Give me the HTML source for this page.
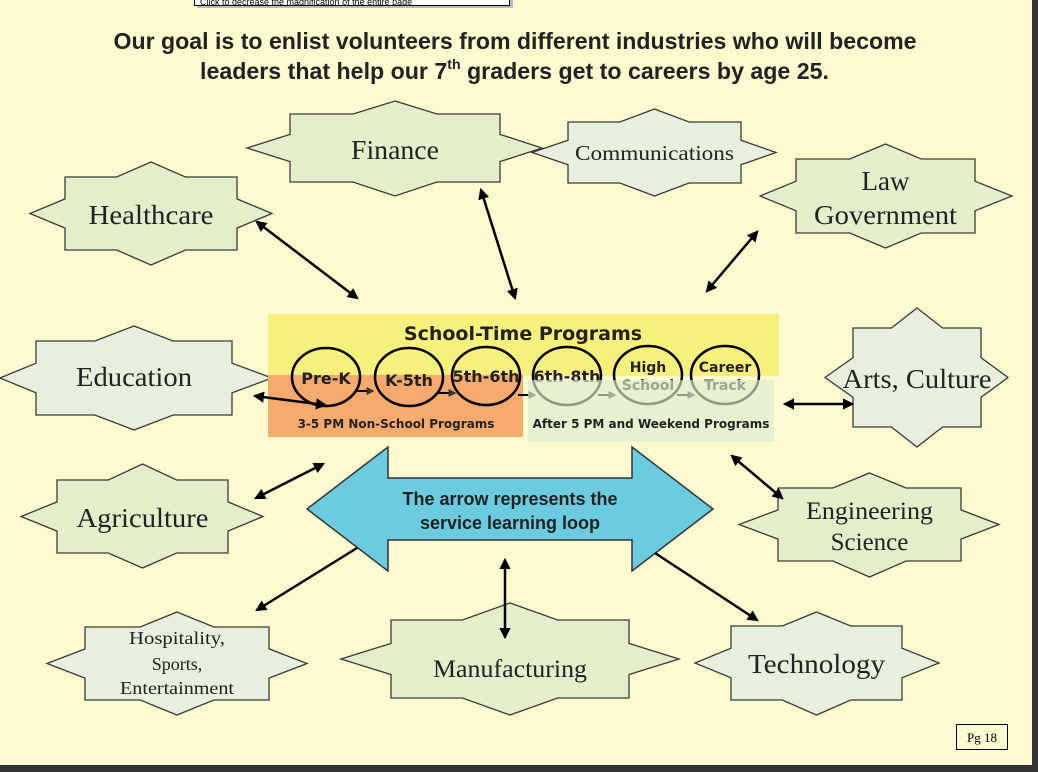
<!DOCTYPE html>
<html><head><meta charset="utf-8"><style>
html,body{margin:0;padding:0;background:#fdfad0;}
svg{display:block}
.s{font-family:"Liberation Serif",serif;fill:#222;text-anchor:middle}
.v{font-family:"DejaVu Sans","Liberation Sans",sans-serif;font-weight:bold;fill:#222;text-anchor:middle}
.a{font-family:"Liberation Sans",sans-serif;font-weight:bold;fill:#222;text-anchor:middle}
</style></head><body>
<svg id="sv" width="1038" height="772" viewBox="0 0 1038 772" xmlns="http://www.w3.org/2000/svg">
<defs>
<marker id="m" viewBox="0 0 10 10" refX="8" refY="5" markerWidth="4.5" markerHeight="4.5" orient="auto-start-reverse"><path d="M0,0 L10,5 L0,10 z" fill="#000"/></marker>
<marker id="g" viewBox="0 0 10 10" refX="8" refY="5" markerWidth="4" markerHeight="4" orient="auto"><path d="M0,0 L10,5 L0,10 z" fill="#333"/></marker>
<clipPath id="tc"><rect x="194" y="0" width="318" height="6"/></clipPath>
</defs>
<rect width="1038" height="772" fill="#fdfad0"/>
<rect x="1032" y="0" width="6" height="772" fill="#333"/>
<rect x="0" y="765" width="1038" height="7" fill="#333"/>
<rect x="197" y="0" width="316" height="8" fill="#bbb"/>
<rect x="194.5" y="-2" width="315" height="7.5" fill="#fff" stroke="#000"/>
<g clip-path="url(#tc)"><text x="200" y="5" font-family="Liberation Sans" font-size="9" fill="#000">Click to decrease the magnification of the entire page</text></g>

<text class="a" x="515" y="49" font-size="23" textLength="803" lengthAdjust="spacingAndGlyphs">Our goal is to enlist volunteers from different industries who will become</text>
<text class="a" x="200" y="79" font-size="23" style="text-anchor:start" textLength="629" lengthAdjust="spacingAndGlyphs">leaders that help our 7<tspan font-size="14" dy="-10">th</tspan><tspan dy="10"> graders get to careers by age 25.</tspan></text>

<g id="stars"></g>

<!-- programs -->
<rect x="268" y="314" width="511" height="62" fill="#f7f07c"/>
<rect x="268" y="375" width="255" height="62" fill="#f6aa6e"/>
<text class="v" x="523" y="340" font-size="19">School-Time Programs</text>
<g fill="none" stroke="#000" stroke-width="2.5">
<ellipse cx="326" cy="377" rx="34" ry="29"/>
<ellipse cx="409" cy="377" rx="34" ry="29"/>
<ellipse cx="486" cy="376" rx="34" ry="29"/>
<ellipse cx="567" cy="376" rx="34" ry="29"/>
<ellipse cx="648" cy="375" rx="34" ry="29"/>
<ellipse cx="725" cy="375" rx="34" ry="29"/>
</g>
<g stroke="#000" stroke-width="2" fill="none">
<line x1="356" y1="391" x2="373" y2="391" marker-end="url(#g)"/>
<line x1="438" y1="393" x2="455" y2="393" marker-end="url(#g)"/>
<line x1="518" y1="395" x2="535" y2="395" marker-end="url(#g)"/>
<line x1="598" y1="395" x2="615" y2="395" marker-end="url(#g)"/>
<line x1="677" y1="395" x2="694" y2="395" marker-end="url(#g)"/>
</g>
<g font-size="16" class="v">
<text x="326" y="384">Pre-K</text>
<text x="409" y="386">K-5th</text>
<text x="486" y="382">5th-6th</text>
<text x="567" y="382">6th-8th</text>
<text x="648" y="372" font-size="14">High</text>
<text x="648" y="390" font-size="14">School</text>
<text x="725" y="372" font-size="14">Career</text>
<text x="725" y="390" font-size="14">Track</text>
</g>
<rect x="528" y="380" width="246" height="62" fill="#dbecd0" fill-opacity="0.65"/>
<text class="v" x="396" y="428" font-size="12">3-5 PM Non-School Programs</text>
<text class="v" x="651" y="428" font-size="12">After 5 PM and Weekend Programs</text>

<!-- big arrow -->
<polygon points="307,509 388,447 388,478 632,478 632,447 713,509 632,571 632,540 388,540 388,571" fill="#6ccbdf" stroke="#333" stroke-width="1.5"/>
<text class="a" x="510" y="505" font-size="18">The arrow represents the</text>
<text class="a" x="510" y="529" font-size="18">service learning loop</text>

<!-- connectors -->
<g stroke="#000" stroke-width="2.5" fill="none">
<line x1="257" y1="222" x2="357" y2="298" marker-start="url(#m)" marker-end="url(#m)"/>
<line x1="481" y1="190" x2="515" y2="298" marker-start="url(#m)" marker-end="url(#m)"/>
<line x1="757" y1="232" x2="707" y2="291" marker-start="url(#m)" marker-end="url(#m)"/>
<line x1="255" y1="396" x2="325" y2="405" marker-start="url(#m)" marker-end="url(#m)"/>
<line x1="785" y1="404" x2="852" y2="404" marker-start="url(#m)" marker-end="url(#m)"/>
<line x1="256" y1="498" x2="323" y2="464" marker-start="url(#m)" marker-end="url(#m)"/>
<line x1="732" y1="456" x2="782" y2="498" marker-start="url(#m)" marker-end="url(#m)"/>
<line x1="357" y1="548" x2="257" y2="610" marker-end="url(#m)"/>
<line x1="655" y1="553" x2="757" y2="620" marker-end="url(#m)"/>
<line x1="505" y1="560" x2="505" y2="637" marker-start="url(#m)" marker-end="url(#m)"/>
</g>

<rect x="956.5" y="724.5" width="51" height="25" fill="none" stroke="#000"/>
<text x="982" y="742" font-family="Liberation Serif" font-size="13" text-anchor="middle" fill="#000">Pg 18</text>
</svg>
<script>
var G="#e4eecb",L="#e6f0dc";
var S=[
[30,272,162,265,65,237,177,250,G,[["Healthcare",224,27,125]]],
[247,542,101,196,290,500,114,182,G,[["Finance",159,27,88]]],
[532,776,109,196,568,741,122,183,L,[["Communications",160,21,159]]],
[760,1012,144,248,796,975,159,233,G,[["Law",190,27,0],["Government",224,27,143]]],
[0,272,326,430,36,232,341,415,L,[["Education",386,27,116]]],
[825,1008,308,447,853,981,328,427,L,[["Arts, Culture",388,27,149]]],
[21,263,464,568,57,228,480,553,G,[["Agriculture",527,27,132]]],
[739,999,473,577,778,961,488,561,G,[["Engineering",519,25,127],["Science",550,25,0]]],
[47,307,612,715,85,269,627,700,L,[["Hospitality,",644,18,96],["Sports,",670,18,0],["Entertainment",694,18,114]]],
[341,679,603,715,391,629,620,698,G,[["Manufacturing",677,25,154]]],
[695,939,612,715,731,902,626,700,L,[["Technology",673,27,137]]]
];
var ns="http://www.w3.org/2000/svg",g=document.getElementById("stars");
S.forEach(function(s){
var Lx=s[0],R=s[1],T=s[2],B=s[3],a=s[4],c=s[5],b=s[6],d=s[7];
var w=c-a,h=d-b,cx=(a+c)/2,cy=(b+d)/2;
var p=[[cx,T],[a+.7*w,b],[c,b],[c,b+.3*h],[R,cy],[c,b+.7*h],[c,d],[a+.7*w,d],[cx,B],[a+.3*w,d],[a,d],[a,b+.7*h],[Lx,cy],[a,b+.3*h],[a,b],[a+.3*w,b]];
var pg=document.createElementNS(ns,"polygon");
pg.setAttribute("points",p.map(function(q){return q.join(",")}).join(" "));
pg.setAttribute("fill",s[8]);pg.setAttribute("stroke","#3a3a3a");pg.setAttribute("stroke-width","1.3");
g.appendChild(pg);
s[9].forEach(function(t){
var e=document.createElementNS(ns,"text");
e.setAttribute("class","s");e.setAttribute("x",cx);e.setAttribute("y",t[1]);e.setAttribute("font-size",t[2]);
if(t[3]){e.setAttribute("textLength",t[3]);e.setAttribute("lengthAdjust","spacingAndGlyphs");}
e.textContent=t[0];g.appendChild(e);
});
});
</script>
</body></html>
